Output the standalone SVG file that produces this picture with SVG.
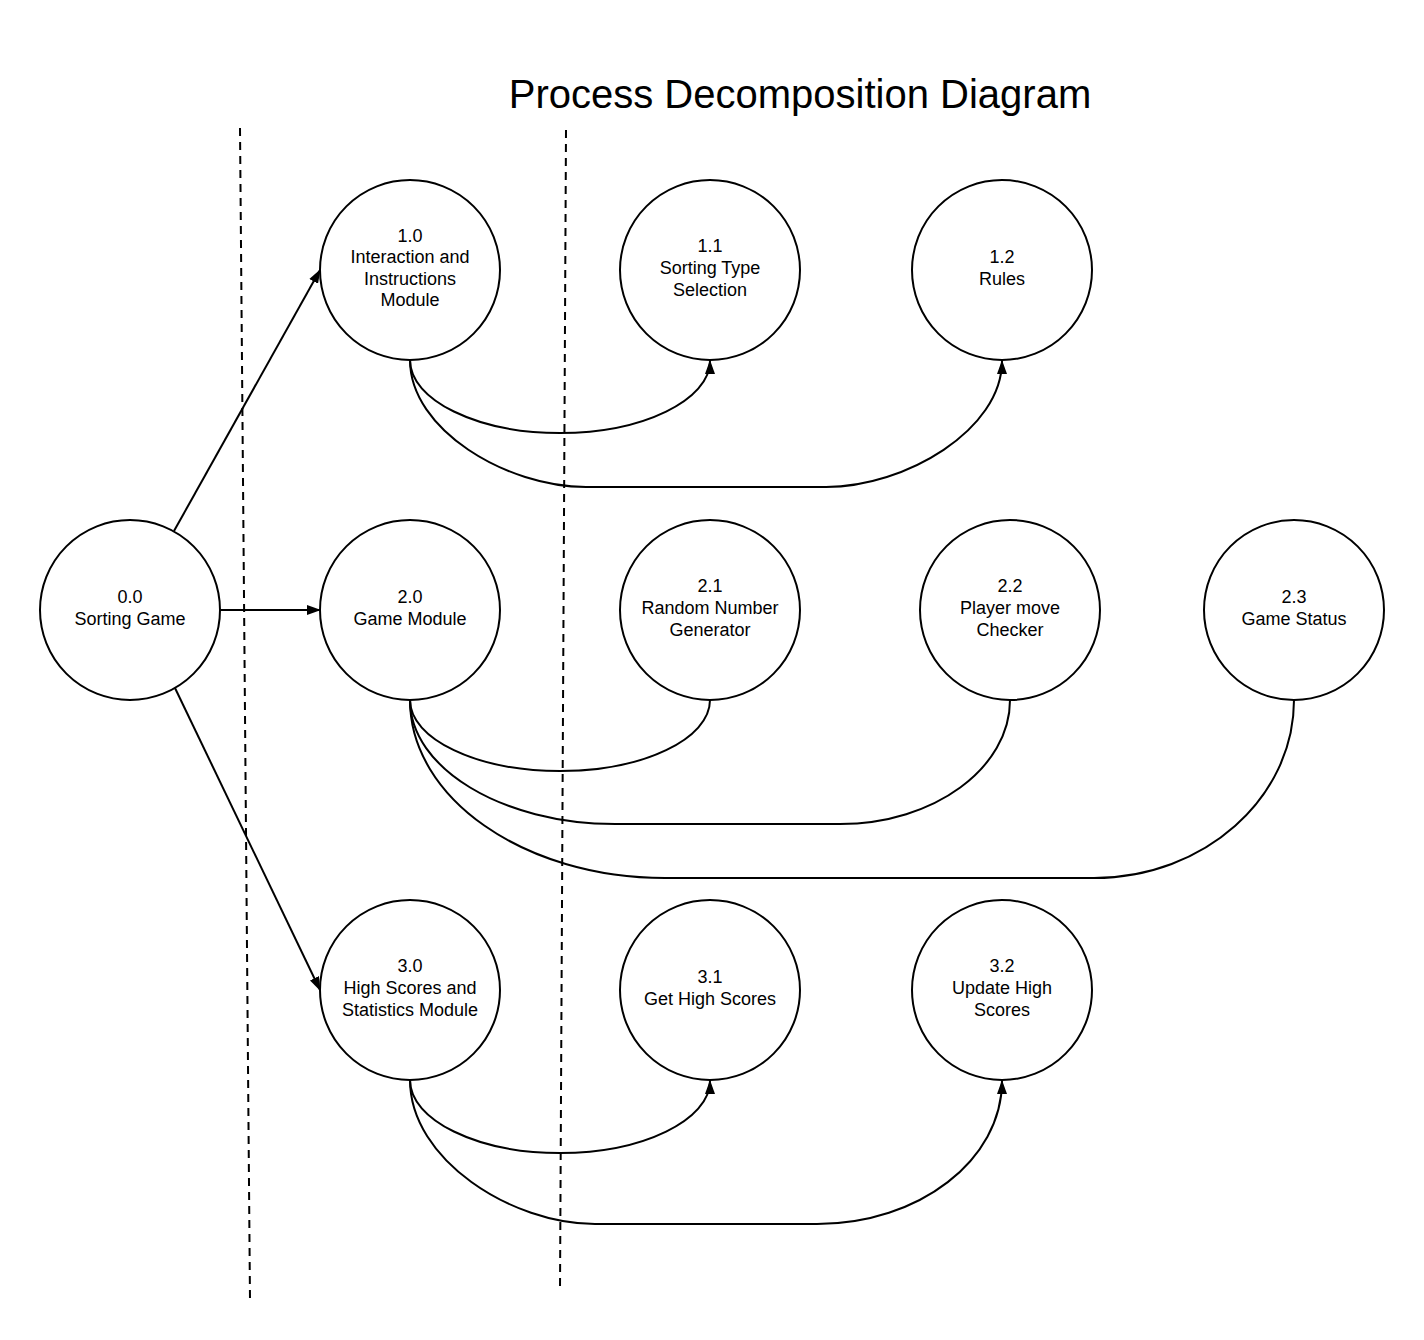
<svg xmlns="http://www.w3.org/2000/svg" width="1424" height="1340" viewBox="0 0 1424 1340">
<style>
.node circle{fill:#fff;stroke:#000;stroke-width:2}
.node text{font-family:"Liberation Sans",Arial,sans-serif;font-size:18px;fill:#000;text-anchor:middle}
.title{font-family:"Liberation Sans",Arial,sans-serif;font-size:40px;fill:#000;text-anchor:middle}
.conn{fill:none;stroke:#000;stroke-width:2}
.arrow{marker-end:url(#ah)}
.dash{fill:none;stroke:#000;stroke-width:2;stroke-dasharray:8 6}
</style>
<defs>
<marker id="ah" viewBox="0 0 14 10" refX="13" refY="5" markerWidth="14" markerHeight="10" markerUnits="userSpaceOnUse" orient="auto">
<path d="M0,0 L14,5 L0,10 z" fill="#000"/>
</marker>
</defs>
<rect width="1424" height="1340" fill="#fff"/>
<text class="title" x="800" y="108">Process Decomposition Diagram</text>
<g id="swimlanes">
<line class="dash" x1="240" y1="128" x2="250" y2="1300"/>
<line class="dash" x1="566" y1="130" x2="560" y2="1290"/>
</g>
<g id="connectors">
<line class="conn arrow" x1="174" y1="531" x2="320" y2="270"/>
<line class="conn arrow" x1="220" y1="610" x2="320" y2="610"/>
<line class="conn arrow" x1="175" y1="688" x2="320" y2="990"/>
<path class="conn arrow" d="M410,360 C410,400 477,433 560,433 C643,433 710,400 710,361"/>
<path class="conn arrow" d="M410,360 C410,430 507,487 586,487 L826,487 C905,487 1002,430 1002,361"/>
<path class="conn" d="M410,700 C410,739 477,771 560,771 C643,771 710,739 710,700"/>
<path class="conn" d="M410,700 C410,768 502,824 615,824 L840,824 C934,824 1010,768 1010,700"/>
<path class="conn" d="M410,700 C410,798 524,878 665,878 L1094,878 C1204,878 1294,798 1294,700"/>
<path class="conn arrow" d="M410,1080 C410,1120 477,1153 560,1153 C643,1153 710,1120 710,1081"/>
<path class="conn arrow" d="M410,1080 C410,1160 512,1224 595,1224 L817,1224 C919,1224 1002,1160 1002,1081"/>
</g>
<g id="n00" class="node"><circle cx="130" cy="610" r="90"/><text x="130" y="602.5">0.0</text><text x="130" y="624.5">Sorting Game</text></g>
<g id="n10" class="node"><circle cx="410" cy="270" r="90"/><text x="410" y="241.5">1.0</text><text x="410" y="263">Interaction and</text><text x="410" y="284.5">Instructions</text><text x="410" y="306">Module</text></g>
<g id="n11" class="node"><circle cx="710" cy="270" r="90"/><text x="710" y="251.5">1.1</text><text x="710" y="273.5">Sorting Type</text><text x="710" y="295.5">Selection</text></g>
<g id="n12" class="node"><circle cx="1002" cy="270" r="90"/><text x="1002" y="262.5">1.2</text><text x="1002" y="284.5">Rules</text></g>
<g id="n20" class="node"><circle cx="410" cy="610" r="90"/><text x="410" y="602.5">2.0</text><text x="410" y="624.5">Game Module</text></g>
<g id="n21" class="node"><circle cx="710" cy="610" r="90"/><text x="710" y="591.5">2.1</text><text x="710" y="613.5">Random Number</text><text x="710" y="635.5">Generator</text></g>
<g id="n22" class="node"><circle cx="1010" cy="610" r="90"/><text x="1010" y="591.5">2.2</text><text x="1010" y="613.5">Player move</text><text x="1010" y="635.5">Checker</text></g>
<g id="n23" class="node"><circle cx="1294" cy="610" r="90"/><text x="1294" y="602.5">2.3</text><text x="1294" y="624.5">Game Status</text></g>
<g id="n30" class="node"><circle cx="410" cy="990" r="90"/><text x="410" y="971.5">3.0</text><text x="410" y="993.5">High Scores and</text><text x="410" y="1015.5">Statistics Module</text></g>
<g id="n31" class="node"><circle cx="710" cy="990" r="90"/><text x="710" y="982.5">3.1</text><text x="710" y="1004.5">Get High Scores</text></g>
<g id="n32" class="node"><circle cx="1002" cy="990" r="90"/><text x="1002" y="971.5">3.2</text><text x="1002" y="993.5">Update High</text><text x="1002" y="1015.5">Scores</text></g>
</svg>
